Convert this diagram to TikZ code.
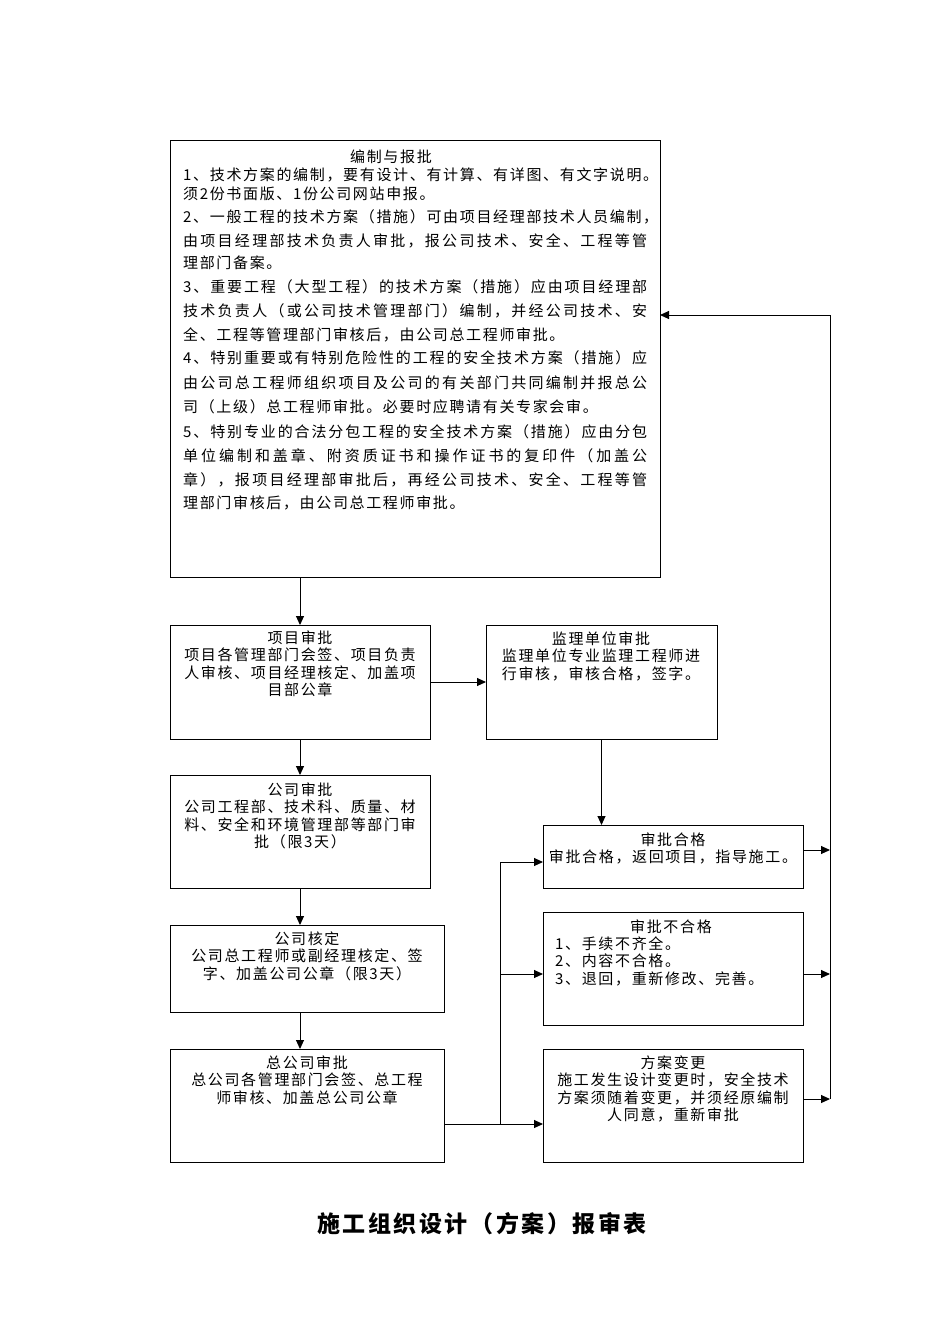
\documentclass[tikz,border=0pt]{standalone}
\usepackage{fontspec}
\usetikzlibrary{arrows.meta}
\newfontfamily\cjk[LetterSpace=11]{Noto Sans CJK SC}
\newfontfamily\cjkt[LetterSpace=11]{Noto Sans CJK SC}
\def\jzfirst#1{#1\jzrest}
\def\jzrest#1{\ifx\relax#1\else\hfil#1\expandafter\jzrest\fi}
\newcommand\jzline[2]{\hbox to #1pt{\jzfirst#2\relax}}
\tikzset{
  box/.style={draw, line width=1pt, inner sep=0pt, outer sep=0pt, anchor=north west},
  tl/.style={inner sep=0pt, font={\cjk\fontsize{15}{17.5}\selectfont}},
  bt/.style={inner sep=0pt, align=center, anchor=north, font={\cjk\fontsize{15}{17.5}\selectfont}},
  arr/.style={line width=1pt, -{Triangle[length=9pt,width=8pt]}},
  ln/.style={line width=1pt}
}
\begin{document}
\begin{tikzpicture}[x=1pt,y=-1pt]
\useasboundingbox (0,0) rectangle (950,1344);
\fill[white] (0,0) rectangle (950,1344);
% boxes
\node[box, minimum width=490pt, minimum height=437pt] (top) at (170,140) {};
\node[box, minimum width=260pt, minimum height=114pt] (proj) at (170,625) {};
\node[box, minimum width=231pt, minimum height=114pt] (sup) at (486,625) {};
\node[box, minimum width=260pt, minimum height=113pt] (comp) at (170,775) {};
\node[box, minimum width=274pt, minimum height=87pt] (ver) at (170,925) {};
\node[box, minimum width=274pt, minimum height=113pt] (hq) at (170,1049) {};
\node[box, minimum width=260pt, minimum height=63pt] (ok) at (543,825) {};
\node[box, minimum width=260pt, minimum height=113pt] (nok) at (543,912) {};
\node[box, minimum width=260pt, minimum height=113pt] (chg) at (543,1049) {};
% top box text
\node[tl, anchor=base] (t0) at (391,162.7) {编制与报批};
\node[tl, anchor=base west] (t1) at (183,180.7) {\jzline{475}{1、技术方案的编制，要有设计、有计算、有详图、有文字说明。}};
\node[tl, anchor=base west] (t2) at (183,199.7) {须2份书面版、1份公司网站申报。};
\node[tl, anchor=base west] (t3) at (183,222.7) {\jzline{475}{2、一般工程的技术方案（措施）可由项目经理部技术人员编制，}};
\node[tl, anchor=base west] (t4) at (183,246.7) {\jzline{464}{由项目经理部技术负责人审批，报公司技术、安全、工程等管}};
\node[tl, anchor=base west] (t5) at (183,268.7) {理部门备案。};
\node[tl, anchor=base west] (t6) at (183,292.7) {\jzline{464}{3、重要工程（大型工程）的技术方案（措施）应由项目经理部}};
\node[tl, anchor=base west] (t7) at (183,316.7) {\jzline{464}{技术负责人（或公司技术管理部门）编制，并经公司技术、安}};
\node[tl, anchor=base west] (t8) at (183,340.7) {全、工程等管理部门审核后，由公司总工程师审批。};
\node[tl, anchor=base west] (t9) at (183,363.7) {\jzline{464}{4、特别重要或有特别危险性的工程的安全技术方案（措施）应}};
\node[tl, anchor=base west] (t10) at (183,388.7) {\jzline{464}{由公司总工程师组织项目及公司的有关部门共同编制并报总公}};
\node[tl, anchor=base west] (t11) at (183,412.7) {司（上级）总工程师审批。必要时应聘请有关专家会审。};
\node[tl, anchor=base west] (t12) at (183,437.7) {\jzline{464}{5、特别专业的合法分包工程的安全技术方案（措施）应由分包}};
\node[tl, anchor=base west] (t13) at (183,461.7) {\jzline{464}{单位编制和盖章、附资质证书和操作证书的复印件（加盖公}};
\node[tl, anchor=base west] (t14) at (183,485.7) {\jzline{464}{章），报项目经理部审批后，再经公司技术、安全、工程等管}};
\node[tl, anchor=base west] (t15) at (183,508.7) {理部门审核后，由公司总工程师审批。};
% small boxes text
\node[bt] (projt) at (300,630.5) {项目审批\\项目各管理部门会签、项目负责\\人审核、项目经理核定、加盖项\\目部公章};
\node[bt] (supt) at (601,631.5) {监理单位审批\\监理单位专业监理工程师进\\行审核，审核合格，签字。};
\node[bt] (compt) at (300,782.5) {公司审批\\公司工程部、技术科、质量、材\\料、安全和环境管理部等部门审\\批（限3天）};
\node[bt] (vert) at (307,931.5) {公司核定\\公司总工程师或副经理核定、签\\字、加盖公司公章（限3天）};
\node[bt] (hqt) at (307,1055.5) {总公司审批\\总公司各管理部门会签、总工程\\师审核、加盖总公司公章};
\node[bt] (okt) at (673,832.5) {审批合格\\审批合格，返回项目，指导施工。};
\node[bt] (nokt) at (671,919.5) {审批不合格};
\node[bt, anchor=north west, align=left] (nokb) at (555,936.5) {1、手续不齐全。\\2、内容不合格。\\3、退回，重新修改、完善。};
\node[bt] (chgt) at (673,1055.5) {方案变更\\施工发生设计变更时，安全技术\\方案须随着变更，并须经原编制\\人同意，重新审批};
% title
\node[inner sep=0pt, font={\cjkt\bfseries\fontsize{23}{26}\selectfont}] (title) at (482,1224) {施工组织设计（方案）报审表};
% connectors
\coordinate (c1) at (300,0);
\draw[arr] (top.south -| c1) -- (proj.north -| c1);
\draw[arr] (proj.east) -- (sup.west);
\draw[arr] (proj.south -| c1) -- (comp.north -| c1);
\draw[arr] (comp.south -| c1) -- (ver.north -| c1);
\draw[arr] (ver.south -| c1) -- (hq.north -| c1);
\draw[arr] (sup.south) -- (sup.south |- ok.north);
\coordinate (j1) at (500,1124);
\coordinate (j2) at (500,862);
\coordinate (j3) at (500,974);
\draw[arr] (hq.east |- j1) -- (chg.west |- j1);
\draw[ln] (j1) -- (j2);
\draw[arr] (j2) -- (ok.west |- j2);
\draw[arr] (j3) -- (nok.west |- j3);
\coordinate (r1) at (830,850);
\coordinate (r2) at (830,974);
\coordinate (r3) at (830,1099);
\coordinate (r0) at (830,315);
\draw[arr] (ok.east |- r1) -- (r1);
\draw[arr] (nok.east |- r2) -- (r2);
\draw[arr] (chg.east |- r3) -- (r3);
\draw[arr] (r3) -- (r0) -- (top.east |- r0);
\end{tikzpicture}
\end{document}
